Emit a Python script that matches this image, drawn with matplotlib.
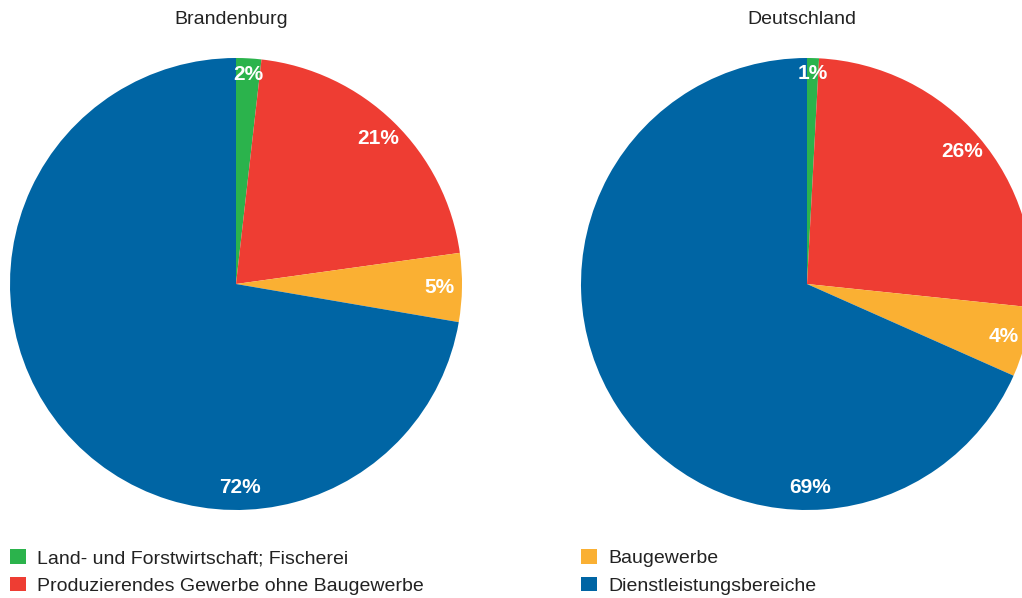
import numpy as np
import matplotlib
matplotlib.use("Agg")
import matplotlib.pyplot as plt
from matplotlib.patches import Patch

plt.rcParams['font.family'] = ['Liberation Sans Narrow', 'Liberation Sans', 'DejaVu Sans']

categories = ['Land- und Forstwirtschaft; Fischerei',
              'Produzierendes Gewerbe ohne Baugewerbe',
              'Baugewerbe',
              'Dienstleistungsbereiche']
colors = ['#2bb34c', '#ee3d33', '#fab033', '#0065a4']

brandenburg = [1.8, 21.0, 4.9, 72.3]
brandenburg_labels = ['2%', '21%', '5%', '72%']
deutschland = [0.85, 25.8, 5.0, 68.35]
deutschland_labels = ['1%', '26%', '4%', '69%']

W, H = 1022, 598
fig = plt.figure(figsize=(W / 100, H / 100), dpi=100)


def draw_pie(cx, cy, r, values, labels, title):
    ax = fig.add_axes([(cx - r) / W, (H - cy - r) / H, 2 * r / W, 2 * r / H])
    wedges, _ = ax.pie(values, colors=colors, startangle=90, counterclock=False,
                       radius=1, wedgeprops=dict(linewidth=0))
    ax.set_xlim(-1, 1)
    ax.set_ylim(-1, 1)
    ax.set_aspect('auto')
    ax.axis('off')
    cum = np.cumsum([0] + list(values)) / sum(values)
    for i, lab in enumerate(labels):
        mid = (cum[i] + cum[i + 1]) / 2 * 360
        dist = 0.90
        if i == 0:
            dist = 0.93
        if i == len(labels) - 1:
            mid = 179  # last label sits at the bottom
        a = np.deg2rad(90 - mid)
        ax.text(dist * np.cos(a), dist * np.sin(a), lab, color='white',
                fontsize=15, fontweight='bold', ha='center', va='center')
    fig.text((cx - 5) / W, 1 - 20 / H, title, ha='center', va='center',
             fontsize=14, color='#222222')
    return wedges


wedges = draw_pie(236, 284, 226, brandenburg, brandenburg_labels, 'Brandenburg')
draw_pie(807, 284, 226, deutschland, deutschland_labels, 'Deutschland')

handles = [Patch(facecolor=c, edgecolor='none') for c in colors]
kw = dict(frameon=False, fontsize=14, handlelength=0.8, handleheight=0.8,
          handletextpad=0.6, labelspacing=0.48, borderpad=0, borderaxespad=0,
          labelcolor='#222222')
fig.legend(handles[:2], categories[:2], loc='upper left',
           bbox_to_anchor=(10 / W, 1 - 549 / H), **kw)
fig.legend(handles[2:], categories[2:], loc='upper left',
           bbox_to_anchor=(581 / W, 1 - 549 / H), **kw)

fig.savefig('out.png', dpi=100)
